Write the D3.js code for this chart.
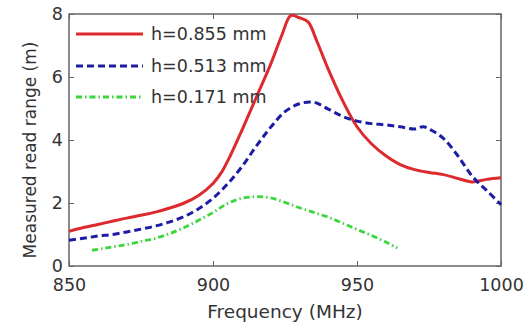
<!DOCTYPE html>
<html><head><meta charset="utf-8">
<script src="https://cdn.jsdelivr.net/npm/d3@7"></script>
<style>body{margin:0;background:#fff}svg{display:block}text{font-family:"DejaVu Sans",sans-serif;fill:#333}</style>
</head><body><svg id="c" width="531" height="326"></svg>
<script>
const xTicks = [850, 900, 950, 1000];
const yTicks = [0, 2, 4, 6, 8];
const seriesNames = ["h=0.855 mm", "h=0.513 mm", "h=0.171 mm"];
const redFreq = [850,855,860,865,870,875,880,885,890,895,900,903,906,910,915,920,924,927,930,933,936,940,945,950,955,960,965,970,975,980,985,990,995,1000];
const redVal  = [1.10,1.22,1.32,1.42,1.52,1.61,1.71,1.84,2.0,2.24,2.62,2.98,3.5,4.3,5.35,6.4,7.35,7.95,7.88,7.75,7.15,6.25,5.25,4.42,3.88,3.5,3.22,3.06,2.97,2.9,2.78,2.67,2.75,2.8];
const blueFreq = [850,855,860,865,870,875,880,885,890,895,900,905,910,915,920,925,930,935,940,945,950,955,960,965,970,973,976,980,985,990,995,1000];
const blueVal  = [0.82,0.88,0.95,1.0,1.08,1.17,1.27,1.4,1.57,1.82,2.15,2.6,3.15,3.8,4.4,4.9,5.15,5.2,4.98,4.75,4.6,4.52,4.48,4.42,4.35,4.42,4.3,4.05,3.5,2.85,2.4,1.95];
const greenFreq = [858,862,866,870,875,880,885,890,895,900,905,910,915,920,925,930,935,940,945,950,955,960,964];
const greenVal  = [0.5,0.56,0.62,0.68,0.78,0.88,1.03,1.22,1.45,1.7,1.98,2.15,2.2,2.16,2.02,1.85,1.7,1.55,1.36,1.16,0.97,0.76,0.57];

const svg = d3.select("#c");
const L = 69, R = 501, T = 14, B = 266;
const x = d3.scaleLinear().domain([850, 1000]).range([L, R]);
const y = d3.scaleLinear().domain([0, 8]).range([B, T]);
const frame = "#666";

svg.append("rect").attr("x", L).attr("y", T).attr("width", R - L).attr("height", B - T)
  .attr("fill", "none").attr("stroke", frame).attr("stroke-width", 1.5);

const ax = svg.append("g").attr("transform", `translate(0,${B})`)
  .call(d3.axisBottom(x).tickValues(xTicks).tickSize(-5).tickPadding(13).tickFormat(d3.format("d")));
const ay = svg.append("g").attr("transform", `translate(${L},0)`)
  .call(d3.axisLeft(y).tickValues(yTicks).tickSize(-5).tickPadding(6));
const axT = svg.append("g").attr("transform", `translate(0,${T})`)
  .call(d3.axisTop(x).tickValues(xTicks).tickSize(-5).tickFormat(""));
const ayR = svg.append("g").attr("transform", `translate(${R},0)`)
  .call(d3.axisRight(y).tickValues(yTicks).tickSize(-5).tickFormat(""));
[ax, ay, axT, ayR].forEach(g => {
  g.select(".domain").remove();
  g.selectAll(".tick line").attr("stroke", frame);
  g.selectAll("text").attr("font-size", 17.5).style("fill", "#333");
});

const line = d3.line().x(d => x(d[0])).y(d => y(d[1])).curve(d3.curveCatmullRom.alpha(0.5));
const series = [
  {name: seriesNames[0], data: d3.zip(redFreq, redVal), color: "#dd2a2e", width: 3, dash: null},
  {name: seriesNames[1], data: d3.zip(blueFreq, blueVal), color: "#1c1ca6", width: 3, dash: "7,4"},
  {name: seriesNames[2], data: d3.zip(greenFreq, greenVal), color: "#3bd63b", width: 2.8, dash: "6,3,1.5,3"}
];
series.forEach(s => {
  svg.append("path").datum(s.data).attr("d", line).attr("fill", "none")
    .attr("stroke", s.color).attr("stroke-width", s.width)
    .attr("stroke-dasharray", s.dash);
});

const legY = [34, 66, 97];
series.forEach((s, i) => {
  svg.append("line").attr("x1", 76).attr("x2", 143).attr("y1", legY[i]).attr("y2", legY[i])
    .attr("stroke", s.color).attr("stroke-width", s.width).attr("stroke-dasharray", s.dash);
  svg.append("text").attr("x", 151).attr("y", legY[i] + 6).attr("font-size", 17.5).text(s.name);
});

svg.append("text").attr("x", 285).attr("y", 318).attr("text-anchor", "middle")
  .attr("font-size", 18.5).text("Frequency (MHz)");
svg.append("text").attr("transform", `translate(36,${(T + B) / 2 + 10}) rotate(-90)`)
  .attr("text-anchor", "middle").attr("font-size", 17).text("Measured read range (m)");
</script></body></html>
